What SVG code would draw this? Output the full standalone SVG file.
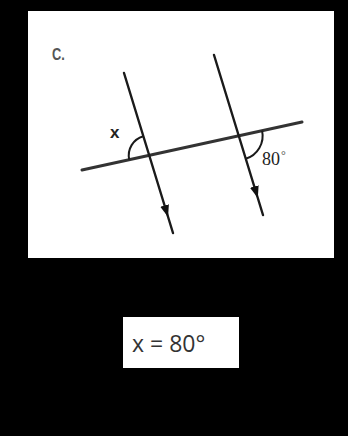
<svg xmlns="http://www.w3.org/2000/svg" width="348" height="436" viewBox="0 0 348 436">
  <style>
    .ln { stroke: #1a1a1a; stroke-width: 2.4; fill: none; stroke-linecap: round; }
    .tr { stroke: #333; stroke-width: 3; fill: none; stroke-linecap: round; }
    .arc { stroke: #1a1a1a; stroke-width: 2; fill: none; }
    .serif { font-family: "Liberation Serif", serif; fill: #222; }
    .sans { font-family: "Liberation Sans", sans-serif; }
  </style>
  <defs>
    <marker id="ah" markerUnits="userSpaceOnUse" markerWidth="14" markerHeight="10" viewBox="-12 -5 14 10" refX="0" refY="0" orient="auto">
      <path d="M0,0 L-12,-4.5 L-12,4.5 Z" fill="#111"/>
    </marker>
  </defs>
  <rect x="0" y="0" width="348" height="436" fill="#000"/>
  <rect id="panel" x="28" y="11" width="306" height="247" fill="#fff"/>
  <g id="connectors">
    <path id="transversal" class="tr" d="M82,170 L302,122"/>
    <path id="line1" class="ln" d="M124,73 L168.1,217 L173,233" marker-mid="url(#ah)"/>
    <path id="line2" class="ln" d="M214,55 L257.8,198 L263,215" marker-mid="url(#ah)"/>
  </g>
  <g id="angle-x">
    <path class="arc" d="M129.2,159.6 A20,20 0 0 1 143.3,136.2"/>
    <text class="sans" x="110" y="138" font-weight="bold" font-size="17" fill="#222">x</text>
  </g>
  <g id="angle-80">
    <path class="arc" d="M262.1,130.7 A24,24 0 0 1 245.7,158.7"/>
    <text class="serif" x="262" y="165" font-size="18">80<tspan font-size="12" dx="1" dy="-6" fill="#555">°</tspan></text>
  </g>
  <text id="label-c" class="sans" x="52" y="60" font-size="16" font-weight="bold" fill="#555" transform="translate(52 60) scale(0.8 1) translate(-52 -60)">C.</text>
  <g id="answer">
    <rect x="123" y="317" width="116" height="51" fill="#fff"/>
    <text x="132" y="352" font-size="23" fill="#333" style="font-family:'Open Sans','Liberation Sans',sans-serif">x = 80°</text>
  </g>
</svg>
